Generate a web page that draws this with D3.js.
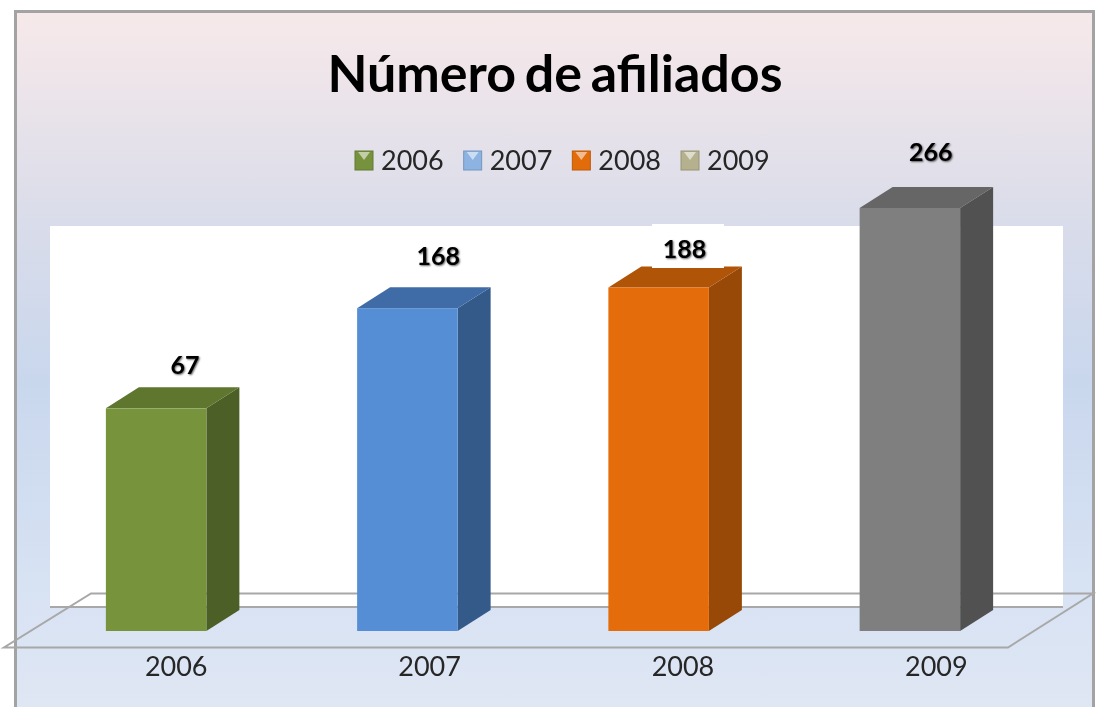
<!DOCTYPE html>
<html>
<head>
<meta charset="utf-8">
<script src="https://cdnjs.cloudflare.com/ajax/libs/d3/7.8.5/d3.min.js"></script>
<style>
  html, body { margin: 0; padding: 0; background: #fff; }
  svg { display: block; filter: blur(0.5px); }
  text { font-family: Lato, "Open Sans", sans-serif; fill: #262626; }
  .label { font-weight: 700; font-size: 25px; fill: #000; text-shadow: 1px 1px 2px rgba(0,0,0,.6); }
</style>
</head>
<body>
<svg id="chart" width="1096" height="707"></svg>
<script>
var titleText = "Número de afiliados";
var years = ["2006", "2007", "2008", "2009"];
// number printed above each bar
var printedValues = [67, 168, 188, 266];
// height of each bar as drawn: the picture's bars are not proportional to the printed numbers
var drawnValues = [140, 203, 216, 266];
var frontColors = ["#77933c", "#558ed5", "#e46c0a", "#7f7f7f"];
var sideColors = ["#4c5f27", "#345a8a", "#984807", "#515151"];
var topColors = ["#5f762f", "#3f6ca6", "#b05408", "#666666"];
var legendColors = ["#76923c", "#8db3e2", "#e36c0a", "#b5b18e"];

var svg = d3.select("#chart");
var depthX = 33, depthY = -21;

var defs = svg.append("defs");
var bg = defs.append("linearGradient").attr("id", "bg")
  .attr("x1", 0).attr("y1", 0).attr("x2", 0).attr("y2", 1);
[[0, "#f7e9ea"], [0.3, "#d9dcea"], [0.52, "#c9d7ed"], [0.8, "#d7e2f3"], [1, "#e0e7f4"]].forEach(function(s){
  bg.append("stop").attr("offset", s[0]).attr("stop-color", s[1]);
});

var x = d3.scaleBand().domain(years).range([30.5, 1035.5]).paddingInner(0.6).paddingOuter(0.3);
var xLabels = d3.scaleBand().domain(years).range([49.5, 1063]);
var y = d3.scaleLinear().domain([0, 266]).range([631, 208]);

// panel
svg.append("rect").attr("x", 15.5).attr("y", 11.5).attr("width", 1078).attr("height", 710)
  .attr("fill", "url(#bg)").attr("stroke", "#a3a3a3").attr("stroke-width", 3);

// back wall
svg.append("rect").attr("x", 50).attr("y", 226).attr("width", 1013).attr("height", 381)
  .attr("fill", "#fff");
svg.append("line").attr("x1", 50).attr("x2", 1063).attr("y1", 607).attr("y2", 607)
  .attr("stroke", "#a8a8a8").attr("stroke-width", 2);

// floor
svg.append("path")
  .attr("d", "M4,647.5 L1008,647.5 L1093,593.5 L91,593.5 Z")
  .attr("fill", "none").attr("stroke", "#a8a8a8").attr("stroke-width", 2);

// title
svg.append("text").attr("x", 555).attr("y", 92).attr("text-anchor", "middle")
  .style("font-size", "52px").style("font-weight", 700).style("word-spacing", "-4px").style("fill", "#000").text(titleText);

// legend
var legendX = d3.scalePoint().domain(years).range([355, 681]);
var legend = svg.selectAll(".legend").data(years).enter().append("g")
  .attr("class", "legend")
  .attr("transform", function(d){ return "translate(" + legendX(d) + ",151)"; });
legend.append("rect").attr("width", 18).attr("height", 19)
  .attr("fill", function(d, i){ return legendColors[i]; })
  .attr("stroke", function(d, i){ return d3.color(legendColors[i]).darker(0.5); }).attr("stroke-width", 1);
legend.append("path").attr("d", "M3,1 L15,1 L9,9 Z")
  .attr("fill", "#fff").attr("opacity", 0.55);
legend.append("text").attr("x", 26).attr("y", 19).style("font-size", "27px").text(function(d){ return d; });

// bars
var bars = svg.selectAll(".bar").data(years).enter().append("g").attr("class", "bar");
bars.append("path")
  .attr("fill", function(d, i){ return sideColors[i]; })
  .attr("d", function(d, i){
    var r = x(d) + x.bandwidth(), t = y(drawnValues[i]), b = y(0);
    return "M" + r + "," + t + " l" + depthX + "," + depthY + " L" + (r + depthX) + "," + (b + depthY) + " L" + r + "," + b + " Z";
  });
bars.append("path")
  .attr("fill", function(d, i){ return topColors[i]; })
  .attr("d", function(d, i){
    var l = x(d), t = y(drawnValues[i]);
    return "M" + l + "," + t + " l" + depthX + "," + depthY + " h" + x.bandwidth() + " l" + (-depthX) + "," + (-depthY) + " Z";
  });
bars.append("rect")
  .attr("x", function(d){ return x(d); })
  .attr("width", x.bandwidth())
  .attr("y", function(d, i){ return y(drawnValues[i]); })
  .attr("height", function(d, i){ return y(0) - y(drawnValues[i]); })
  .attr("fill", function(d, i){ return frontColors[i]; });

// white patch behind the 188 label, it clips the top of the orange bar
svg.append("rect").attr("x", 652).attr("y", 224).attr("width", 72).attr("height", 44).attr("fill", "#fff");

// printed values, nudged by hand in the original
var nudgeX = [29, 31, 26, 21];
var nudgeY = [-34, -43, -30, -47];
svg.selectAll(".label").data(years).enter().append("text")
  .attr("class", "label")
  .attr("text-anchor", "middle")
  .attr("x", function(d, i){ return x(d) + x.bandwidth() / 2 + nudgeX[i]; })
  .attr("y", function(d, i){ return y(drawnValues[i]) + nudgeY[i]; })
  .text(function(d, i){ return printedValues[i]; });

// year axis
var axis = svg.append("g").attr("transform", "translate(0,650)")
  .call(d3.axisBottom(xLabels).tickSize(0).tickPadding(0));
axis.select(".domain").remove();
axis.selectAll("text").attr("y", 0).attr("dy", "0.95em")
  .style("font-size", "27px").style("font-family", "Lato, sans-serif").style("fill", "#262626");
</script>
</body>
</html>
